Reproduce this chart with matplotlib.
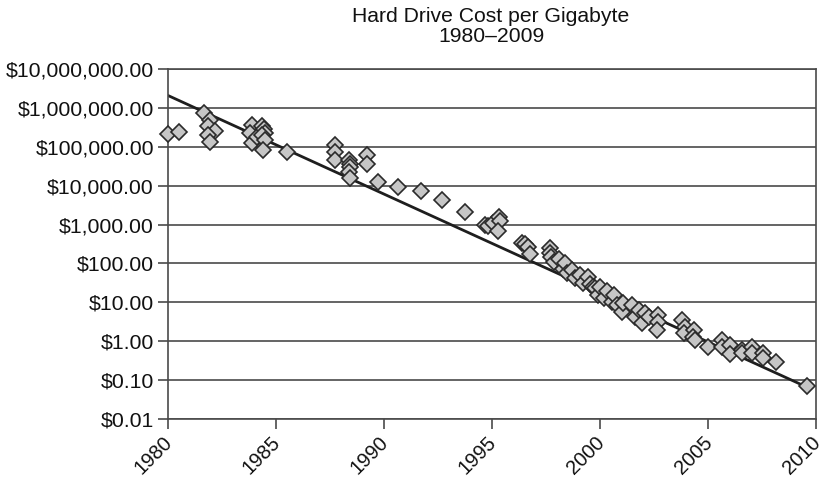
import matplotlib
matplotlib.use("Agg")
import matplotlib.pyplot as plt
from matplotlib.ticker import FuncFormatter, FixedLocator, NullLocator
from matplotlib.transforms import ScaledTranslation
import numpy as np

plt.rcParams['font.family'] = ['Liberation Sans', 'DejaVu Sans']

title_text = "Hard Drive Cost per Gigabyte\n1980\u20132009"

years = [
    1980.0, 1980.5,
    1981.68, 1981.96, 1981.85, 1982.19, 1981.85, 1981.96,
    1983.89, 1983.82, 1983.89, 1984.12,
    1984.38, 1984.45, 1984.5, 1984.38, 1984.5, 1984.4,
    1985.5,
    1987.75, 1987.72, 1987.75,
    1988.38, 1988.42, 1988.42, 1988.38, 1988.42,
    1989.2, 1989.2, 1989.75,
    1990.68, 1991.74, 1992.7, 1993.75,
    1994.69, 1994.84, 1995.07, 1995.35, 1995.4, 1995.3,
    1996.39, 1996.54, 1996.65, 1996.77,
    1997.7, 1997.7, 1997.73, 1997.88, 1998.1, 1998.29, 1998.4, 1998.47,
    1998.7, 1998.86, 1999.09, 1999.24, 1999.43, 1999.55, 1999.7, 1999.78,
    1999.89, 2000.0, 2000.17, 2000.32, 2000.55, 2000.63, 2000.79, 2001.02,
    2001.06, 2001.48, 2001.63, 2001.79, 2001.94, 2002.1, 2002.25, 2002.67,
    2002.67, 2002.64,
    2003.8, 2003.95, 2003.87, 2004.37, 2004.33, 2004.4,
    2005.0, 2005.65, 2005.65, 2006.03, 2006.03, 2006.57, 2006.57, 2007.04,
    2007.04, 2007.55, 2007.55, 2008.16, 2009.58,
]

cost_per_gb = [
    2.13e5, 2.4e5,
    7.2e5, 5.0e5, 3.4e5, 2.6e5, 2.0e5, 1.35e5,
    3.6e5, 2.2e5, 1.23e5, 1.8e5,
    3.4e5, 2.8e5, 2.3e5, 2.0e5, 1.48e5, 8.3e4,
    7.4e4,
    1.1e5, 7.4e4, 4.6e4,
    4.6e4, 3.7e4, 3.1e4, 2.3e4, 1.55e4,
    6.2e4, 3.7e4, 1.26e4,
    9.4e3, 7.4e3, 4.3e3, 2.1e3,
    980, 920, 1070, 1590, 1230, 680,
    340, 310, 260, 180,
    246, 190, 149, 110, 129, 74, 100, 56,
    68, 42, 50, 31, 46, 30, 25, 23,
    15.5, 25, 12.6, 19, 10.4, 15.5, 8.5, 5.8,
    9.8, 8.5, 4.3, 6.3, 2.9, 5.3, 4.3, 4.7,
    3.2, 2.0,
    3.5, 2.35, 1.6, 2.0, 1.3, 1.07,
    0.69, 1.07, 0.72, 0.79, 0.47, 0.59, 0.50, 0.72,
    0.49, 0.49, 0.36, 0.29, 0.071,
]

trend_years = [1980.0, 2009.58]
trend_values = [2.1e6, 0.066]

x_ticks = [1980, 1985, 1990, 1995, 2000, 2005, 2010]
y_ticks = [0.01, 0.1, 1, 10, 100, 1e3, 1e4, 1e5, 1e6, 1e7]

fig = plt.figure(figsize=(8.26, 4.79), dpi=100)
ax = fig.add_axes([167.7 / 826, 1 - 419 / 479, (816 - 167.7) / 826, (419 - 69) / 479])

ax.set_yscale('log')
ax.set_xlim(1980, 2010)
ax.set_ylim(0.01, 1e7)

ax.yaxis.set_major_locator(FixedLocator(y_ticks))
ax.yaxis.set_minor_locator(NullLocator())
ax.xaxis.set_major_locator(FixedLocator(x_ticks))
ax.yaxis.set_major_formatter(FuncFormatter(lambda v, p: f"${v:,.2f}"))

grid_col = '#4a4a4a'
ax.grid(axis='y', color=grid_col, linewidth=1.2)
ax.set_axisbelow(True)
for s in ['left', 'right', 'bottom', 'top']:
    ax.spines[s].set_color(grid_col)
    ax.spines[s].set_linewidth(1.2)

ax.tick_params(axis='both', direction='out', length=7, width=1.2, color=grid_col,
               labelcolor='#111111')
ax.tick_params(axis='y', pad=3, labelsize=15.3)
ax.tick_params(axis='x', pad=2, labelsize=14.5)

offset = ScaledTranslation(-5 / 100, -1 / 100, fig.dpi_scale_trans)
for lbl in ax.get_xticklabels():
    lbl.set_rotation(45)
    lbl.set_ha('right')
    lbl.set_va('top')
    lbl.set_rotation_mode('anchor')
    lbl.set_transform(lbl.get_transform() + offset)

ax.plot(trend_years, trend_values, color='#1e1e1e', linewidth=2.0, zorder=2)
ax.plot(years, cost_per_gb, linestyle='none', marker='D', markersize=8,
        markerfacecolor='#c6c6c6', markeredgecolor='#2a2a2a', markeredgewidth=1.2,
        zorder=3, clip_on=False)

fig.text(491 / 826, 1 - 7 / 479, title_text, ha='center', va='top',
         fontsize=15.2, color='#111111', linespacing=1.1)

fig.savefig('out.png', dpi=100)
